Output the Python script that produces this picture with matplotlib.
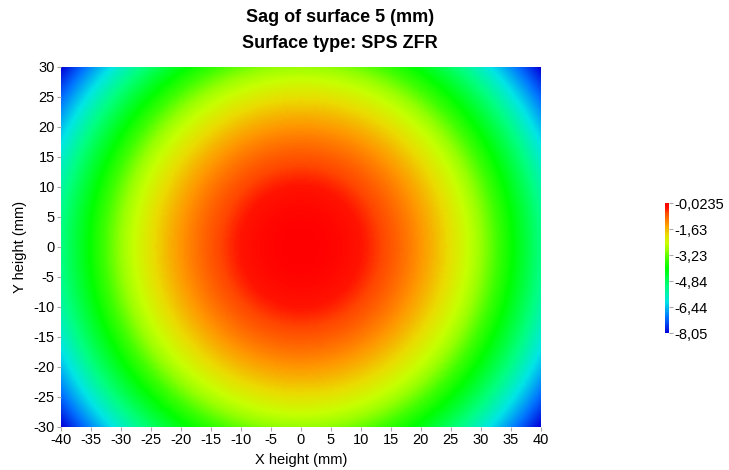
import numpy as np
import matplotlib
matplotlib.use("Agg")
import matplotlib.pyplot as plt
from matplotlib.colors import LinearSegmentedColormap

plt.rcParams['font.family'] = ['Liberation Sans', 'DejaVu Sans']
plt.rcParams['axes.unicode_minus'] = False

# values
x_range = [-40, 40]
y_range = [-30, 30]
x_ticks = list(range(-40, 45, 5))
y_ticks = list(range(-30, 35, 5))
sag_center = -0.0235
sag_corner = -8.05
cbar_ticks = [-0.0235, -1.63, -3.23, -4.84, -6.44, -8.05]
cbar_labels = ['-0,0235', '-1,63', '-3,23', '-4,84', '-6,44', '-8,05']

# rainbow map like the one in the picture
cmap = LinearSegmentedColormap.from_list('sag', [
    (0.00, (0.0, 0.0, 0.85)),
    (0.12, (0.0, 0.45, 1.0)),
    (0.24, (0.0, 0.9, 0.9)),
    (0.36, (0.0, 1.0, 0.5)),
    (0.50, (0.0, 1.0, 0.0)),
    (0.57, (0.25, 1.0, 0.0)),
    (0.64, (0.6, 1.0, 0.0)),
    (0.69, (0.78, 1.0, 0.0)),
    (0.76, (0.92, 0.86, 0.0)),
    (0.84, (1.0, 0.59, 0.0)),
    (0.93, (1.0, 0.27, 0.0)),
    (0.96, (1.0, 0.08, 0.0)),
    (1.00, (1.0, 0.0, 0.0)),
])

# sag surface: grows with r^2 from the centre value to the corner value
x = np.linspace(x_range[0], x_range[1], 401)
y = np.linspace(y_range[0], y_range[1], 301)
X, Y = np.meshgrid(x, y)
r_corner = np.hypot(x_range[1], y_range[1])
Z = sag_center + (sag_corner - sag_center) * (X**2 + Y**2) / r_corner**2

fig = plt.figure(figsize=(7.29, 4.70), dpi=100)
ax = fig.add_axes([0.0837, 0.0915, 0.658, 0.766])
im = ax.imshow(Z, cmap=cmap, origin='lower', aspect='auto',
               extent=[x_range[0], x_range[1], y_range[0], y_range[1]],
               vmin=sag_corner, vmax=sag_center, interpolation='bilinear')
ax.set_xticks(x_ticks)
ax.set_yticks(y_ticks)
ax.tick_params(labelsize=10.5, length=3, color='#aaaaaa', pad=1.5)
for s in ax.spines.values():
    s.set_visible(False)
ax.set_xlabel('X height (mm)', fontsize=10.5, labelpad=4)
ax.set_ylabel('Y height (mm)', fontsize=10.5, labelpad=5)

fig.text(0.466, 0.962, 'Sag of surface 5 (mm)', ha='center', va='center',
         fontsize=13, fontweight='bold')
fig.text(0.466, 0.907, 'Surface type: SPS ZFR', ha='center', va='center',
         fontsize=13, fontweight='bold')

cax = fig.add_axes([0.912, 0.291, 0.0055, 0.277])
cb = fig.colorbar(im, cax=cax, ticks=cbar_ticks)
cb.ax.set_yticklabels(cbar_labels)
cb.ax.tick_params(labelsize=10.5, length=3, color='#aaaaaa', pad=1)
cb.outline.set_visible(False)

fig.savefig('out.png', dpi=100)
